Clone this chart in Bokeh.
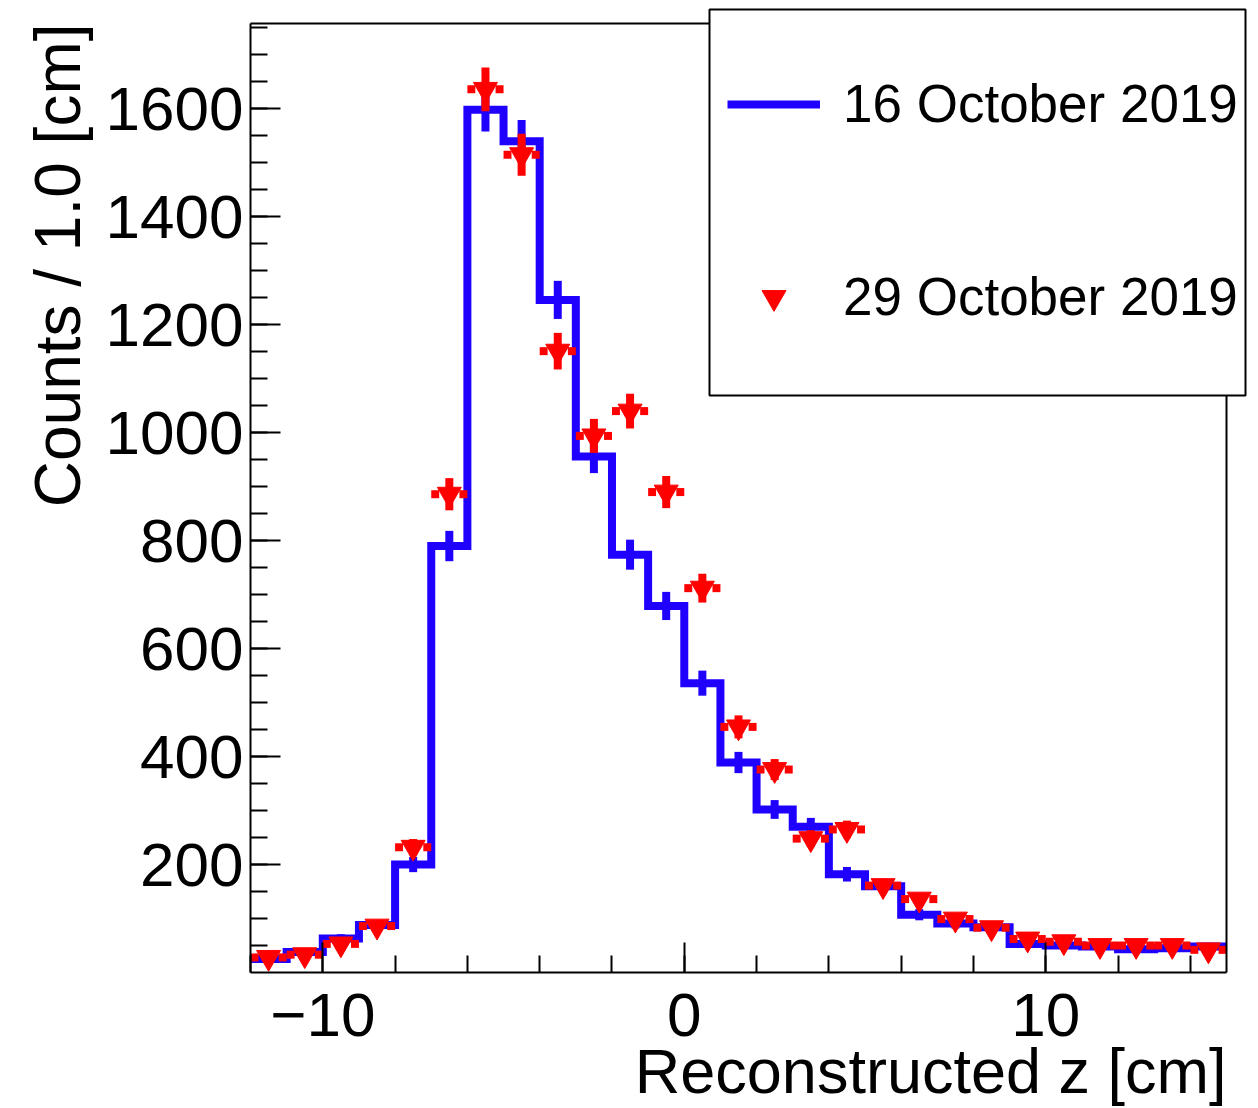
import math
from bokeh.plotting import figure
from bokeh.models import (Range1d, FixedTicker, Label, Legend, LegendItem,
                          BoxAnnotation, LinearAxis)
from bokeh.embed import file_html
from bokeh.resources import INLINE

# ---------------- data ----------------
bin_edges = list(range(-12, 16))
bin_centers = [e + 0.5 for e in range(-12, 15)]

oct16_counts = [25, 38, 63, 88, 200, 790, 1598, 1540, 1246, 956, 774, 679, 536,
                389, 302, 270, 182, 160, 107, 91, 84, 53, 50, 48, 43, 45, 48]
oct16_errors = [5.0, 6.2, 7.9, 9.4, 14.1, 28.1, 40.0, 39.2, 35.3, 30.9, 27.8, 26.1, 23.2,
                19.7, 17.4, 16.4, 13.5, 12.6, 10.3, 9.5, 9.2, 7.3, 7.1, 6.9, 6.6, 6.7, 6.9]

oct29_counts = [28, 33, 53, 86, 232, 886, 1636, 1515, 1151, 994, 1040, 890, 712,
                455, 376, 248, 265, 161, 136, 99, 83, 62, 57, 50, 50, 50, 42]
oct29_errors = [5.3, 5.7, 7.3, 9.3, 15.2, 29.8, 40.4, 38.9, 33.9, 31.5, 32.2, 29.8, 26.7,
                21.3, 19.4, 15.7, 16.3, 12.7, 11.7, 9.9, 9.1, 7.9, 7.5, 7.1, 7.1, 7.1, 6.5]

series_labels = ["16 October 2019", "29 October 2019"]
x_title = "Reconstructed z [cm]"
y_title = "Counts / 1.0 [cm]"
x_major_ticks = [-10, 0, 10]
x_tick_labels = {-10: "\u221210", 0: "0", 10: "10"}
x_minor_ticks = list(range(-12, 16, 2))
y_major_ticks = [200, 400, 600, 800, 1000, 1200, 1400, 1600]
y_minor_ticks = list(range(50, 1751, 50))
X_LO, X_HI = -12, 15
Y_LO, Y_HI = 0, 1758

# ---------------- layout constants (pixels) ----------------
W, H = 1258, 1108
FL, FR, FT, FB = 250, 1226, 23, 972      # visible plot box
xppu = (FR - FL) / (X_HI - X_LO)
yppu = (FB - FT) / (Y_HI - Y_LO)
x_start = X_LO - FL / xppu
x_end = X_HI + (W - FR) / xppu
y_start = Y_LO - (H - FB) / yppu
y_end = Y_HI + FT / yppu

BLUE = "#1f00ff"
RED = "#ff0000"
FONT = "Liberation Sans"

# ---------------- figure ----------------
p = figure(width=W, height=H, x_range=Range1d(x_start, x_end), y_range=Range1d(y_start, y_end),
           output_backend="svg", toolbar_location=None, min_border=0)
p.background_fill_color = "white"
p.border_fill_color = "white"
p.outline_line_color = None
p.xgrid.visible = False
p.ygrid.visible = False

for ax in (p.xaxis[0], p.yaxis[0]):
    ax.axis_line_color = "black"
    ax.axis_line_width = 2
    ax.major_tick_in = 30
    ax.major_tick_out = 0
    ax.minor_tick_in = 17
    ax.minor_tick_out = 0
    ax.major_tick_line_width = 2
    ax.minor_tick_line_width = 2
    ax.major_tick_line_color = "black"
    ax.minor_tick_line_color = "black"
    ax.major_label_text_font = FONT
    ax.major_label_text_font_size = "62px"
    ax.major_label_text_color = "black"

p.xaxis[0].fixed_location = Y_LO
p.xaxis[0].bounds = (X_LO, X_HI)
p.xaxis[0].ticker = FixedTicker(ticks=x_major_ticks, minor_ticks=x_minor_ticks)
p.xaxis[0].major_label_overrides = x_tick_labels
p.xaxis[0].major_label_standoff = 21
p.yaxis[0].fixed_location = X_LO
p.yaxis[0].bounds = (Y_LO, Y_HI)
p.yaxis[0].ticker = FixedTicker(ticks=y_major_ticks, minor_ticks=y_minor_ticks)
p.yaxis[0].major_label_standoff = 7

# top and right edges of the plot box
top_axis = LinearAxis(fixed_location=Y_HI, bounds=(X_LO, X_HI), ticker=FixedTicker(ticks=[]),
                      axis_line_width=2, axis_line_color="black",
                      major_tick_in=0, major_tick_out=0, minor_tick_in=0, minor_tick_out=0,
                      major_label_standoff=0, major_label_text_font_size="0px")
p.add_layout(top_axis, "above")
right_axis = LinearAxis(fixed_location=X_HI, bounds=(Y_LO, Y_HI), ticker=FixedTicker(ticks=[]),
                        axis_line_width=2, axis_line_color="black",
                        major_tick_in=0, major_tick_out=0, minor_tick_in=0, minor_tick_out=0,
                        major_label_standoff=0, major_label_text_font_size="0px")
p.add_layout(right_axis, "right")

# ---------------- 16 October: step histogram with error bars ----------------
step_y = oct16_counts + [oct16_counts[-1]]
blue_r = p.step(x=bin_edges, y=step_y, mode="after", line_color=BLUE, line_width=8,
                line_join="miter")
p.segment(x0=bin_centers, x1=bin_centers,
          y0=[c - e for c, e in zip(oct16_counts, oct16_errors)],
          y1=[c + e for c, e in zip(oct16_counts, oct16_errors)],
          line_color=BLUE, line_width=8, line_cap="butt")

# ---------------- 29 October: markers with error bars ----------------
gap = 0.28
p.segment(x0=[x - 0.5 for x in bin_centers], x1=[x - gap for x in bin_centers],
          y0=oct29_counts, y1=oct29_counts, line_color=RED, line_width=8, line_cap="butt")
p.segment(x0=[x + gap for x in bin_centers], x1=[x + 0.5 for x in bin_centers],
          y0=oct29_counts, y1=oct29_counts, line_color=RED, line_width=8, line_cap="butt")
p.segment(x0=bin_centers, x1=bin_centers,
          y0=[c - e for c, e in zip(oct29_counts, oct29_errors)],
          y1=[c + e for c, e in zip(oct29_counts, oct29_errors)],
          line_color=RED, line_width=8, line_cap="butt")
red_r = p.scatter(x=bin_centers, y=oct29_counts, marker="inverted_triangle", size=24,
                  fill_color=RED, line_color=RED, line_width=1)

# ---------------- legend ----------------
LB_L, LB_R, LB_T, LB_B = 709, 1245, 9, 395
box = BoxAnnotation(left=LB_L, right=LB_R, top=H - LB_T, bottom=H - LB_B,
                    left_units="screen", right_units="screen",
                    top_units="screen", bottom_units="screen",
                    fill_color="white", fill_alpha=1.0,
                    line_color="black", line_width=2, line_alpha=1.0)
p.add_layout(box)

legend = Legend(items=[LegendItem(label=series_labels[0], renderers=[blue_r]),
                       LegendItem(label=series_labels[1], renderers=[red_r])],
                location=(727, H - 327), orientation="vertical",
                border_line_color=None, background_fill_alpha=0.0,
                padding=0, margin=0, spacing=132,
                glyph_width=93, glyph_height=60, label_height=60, label_standoff=23,
                label_text_font=FONT, label_text_font_size="53px",
                label_text_color="black")
p.add_layout(legend)

# ---------------- axis titles ----------------
p.add_layout(Label(x=FR, y=H - 1070, x_units="screen", y_units="screen", text=x_title,
                   text_align="right", text_baseline="alphabetic",
                   text_font=FONT, text_font_size="63px", text_color="black"))
p.add_layout(Label(x=57, y=H - FT, x_units="screen", y_units="screen", text=y_title,
                   angle=math.pi / 2, text_align="right", text_baseline="alphabetic",
                   text_font=FONT, text_font_size="64px", text_color="black"))

open("out.html", "w").write(file_html(p, INLINE))
